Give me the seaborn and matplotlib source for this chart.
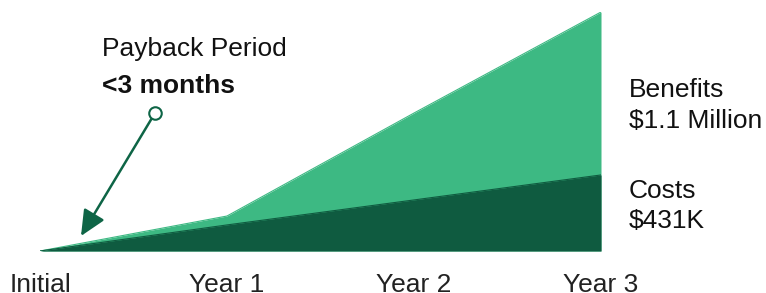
import matplotlib
matplotlib.use("Agg")
import matplotlib.pyplot as plt
import seaborn as sns
import pandas as pd

periods = ["Initial", "Year 1", "Year 2", "Year 3"]
benefits = [0, 161, 635, 1100]
costs = [0, 120, 235, 350]
benefit_label = ["Benefits", "$1.1 Million"]
cost_label = ["Costs", "$431K"]
payback_title = "Payback Period"
payback_value = "<3 months"

LIGHT = "#3DB983"
DARK = "#0F5B40"
ARROW = "#0E6546"

sns.set_theme(style="white")
plt.rcParams["font.family"] = ["Liberation Sans", "DejaVu Sans"]

W, H = 766, 293
fig = plt.figure(figsize=(W / 100, H / 100), dpi=100)
ax = fig.add_axes([40 / W, (H - 251) / H, (601 - 40) / W, (251 - 12) / H])

df = pd.DataFrame({"x": range(len(periods)), "Benefits": benefits, "Costs": costs})
ax.fill_between(df["x"], 0, df["Benefits"], color=LIGHT, lw=0)
ax.fill_between(df["x"], 0, df["Costs"], color=DARK, lw=0)
sns.lineplot(data=df, x="x", y="Benefits", ax=ax, color=LIGHT, lw=0.8)
sns.lineplot(data=df, x="x", y="Costs", ax=ax, color=DARK, lw=0.8)

ax.set_xlim(0, 3)
ax.set_ylim(0, 1100)
ax.set_xticks(range(len(periods)))
ax.set_xticklabels(periods, fontsize=19, color="#222222")
ax.tick_params(axis="x", length=0, pad=16)
ax.set_yticks([])
ax.set_xlabel("")
ax.set_ylabel("")
for s in ax.spines.values():
    s.set_visible(False)

def px2data(px, py):
    return (px - 40) / 187.0, (251 - py) * 1100 / 239.0

cx, cy = px2data(155, 113)
tx, ty = px2data(81, 236)
ax.annotate("", xy=(tx, ty), xytext=(cx, cy),
            arrowprops=dict(arrowstyle="-|>,head_length=1.3,head_width=0.6",
                            color=ARROW, lw=1.8, shrinkA=4, shrinkB=0),
            annotation_clip=False)
ax.plot([cx], [cy], marker="o", ms=9, mfc="white", mec=ARROW, mew=1.5,
        clip_on=False, zorder=5)

def ftext(px, py, s, **kw):
    fig.text(px / W, 1 - py / H, s, va="center", ha="left", **kw)

ftext(102, 49, payback_title, fontsize=19, color="#111111")
ftext(102, 86, payback_value, fontsize=19, fontweight="bold", color="#111111")
ftext(629, 90, benefit_label[0], fontsize=19, color="#111111")
ftext(629, 121, benefit_label[1], fontsize=19, color="#111111")
ftext(629, 191, cost_label[0], fontsize=19, color="#111111")
ftext(629, 221, cost_label[1], fontsize=19, color="#111111")

fig.savefig("out.png", dpi=100)
